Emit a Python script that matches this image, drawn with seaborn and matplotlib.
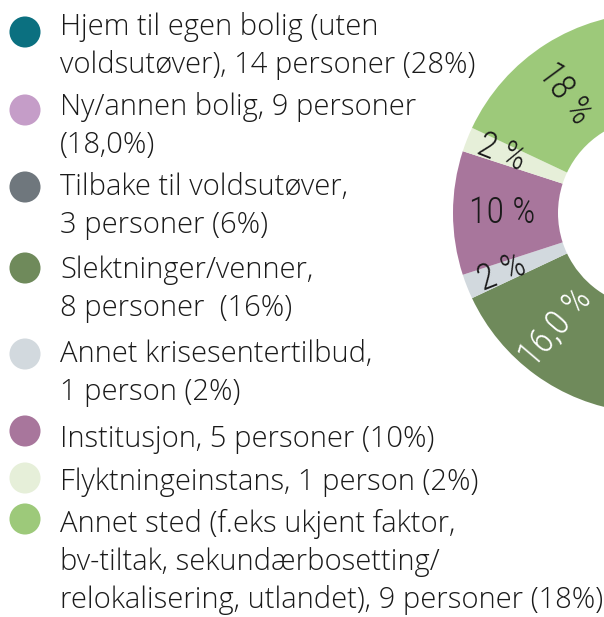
import numpy as np
import matplotlib
matplotlib.use('Agg')
import matplotlib.pyplot as plt
import seaborn as sns

# Data
categories = [
    "Hjem til egen bolig (uten\nvoldsutøver), 14 personer (28%)",
    "Ny/annen bolig, 9 personer\n(18,0%)",
    "Tilbake til voldsutøver,\n3 personer (6%)",
    "Slektninger/venner,\n8 personer  (16%)",
    "Annet krisesentertilbud,\n1 person (2%)",
    "Institusjon, 5 personer (10%)",
    "Flyktningeinstans, 1 person (2%)",
    "Annet sted (f.eks ukjent faktor,\nbv-tiltak, sekundærbosetting/\nrelokalisering, utlandet), 9 personer (18%)",
]
persons = [14, 9, 3, 8, 1, 5, 1, 9]
slice_labels = ["28 %", "18 %", "6 %", "16,0 %", "2 %", "10 %", "2 %", "18 %"]

colors = sns.color_palette(["#0b7080", "#c59dc8", "#6f777d", "#6f8a5b",
                            "#d2d9de", "#a8769c", "#e6efd9", "#9dc97a"])
label_colors = ["white", "#1a1a1a", "white", "white", "#1a1a1a", "#1a1a1a", "#1a1a1a", "#1a1a1a"]

sns.set_theme(style='white')
plt.rcParams['font.family'] = ['Open Sans', 'DejaVu Sans']

W, H = 604, 617
fig = plt.figure(figsize=(W / 100, H / 100), dpi=100)
ax = fig.add_axes([0, 0, 1, 1])

# Donut (only its left part is inside the picture)
cx, cy = 653, H - 213
R, ring = 200, 105
wedges, _ = ax.pie(persons, colors=colors, startangle=90, counterclock=False,
                   center=(cx, cy), radius=R,
                   wedgeprops=dict(width=ring, edgecolor='none', linewidth=0))

# label placement tweaks: (radius, angle shift towards 9 o'clock in degrees)
label_place = {3: (150, 4.5), 4: (162, 0), 5: (151, 0), 6: (163, 0), 7: (148, 4)}
for i, (w, lab, lc) in enumerate(zip(wedges, slice_labels, label_colors)):
    mid = (w.theta1 + w.theta2) / 2 % 360
    r_lab, shift = label_place.get(i, (150, 0))
    ang = mid - shift if mid > 180 else mid + shift
    rad = np.deg2rad(ang)
    x = cx + r_lab * np.cos(rad)
    y = cy + r_lab * np.sin(rad)
    if x > W - 10:
        continue  # outside the visible area
    rot = ang - 180
    ax.text(x, y, lab, rotation=rot, rotation_mode='anchor', ha='center', va='center',
            fontsize=26, fontweight='light', color=lc,
            family=['Roboto Condensed', 'DejaVu Sans'])

# Legend
baselines = [35, 115, 195, 278, 362, 447, 490, 532]
marker_y = [32, 110, 187, 268, 354, 431, 478, 519]
line_h = 38
for cat, col, b, my in zip(categories, colors, baselines, marker_y):
    ax.scatter([25], [H - my], s=500, color=col, edgecolors='none', zorder=3)
    for i, line in enumerate(cat.split("\n")):
        ax.text(60, H - (b + i * line_h), line, ha='left', va='baseline',
                fontsize=21, fontweight='light', color='#1a1a1a')

ax.set_xlim(0, W)
ax.set_ylim(0, H)
ax.set_aspect('auto')
ax.axis('off')

fig.savefig('out.png', dpi=100, facecolor='white')
